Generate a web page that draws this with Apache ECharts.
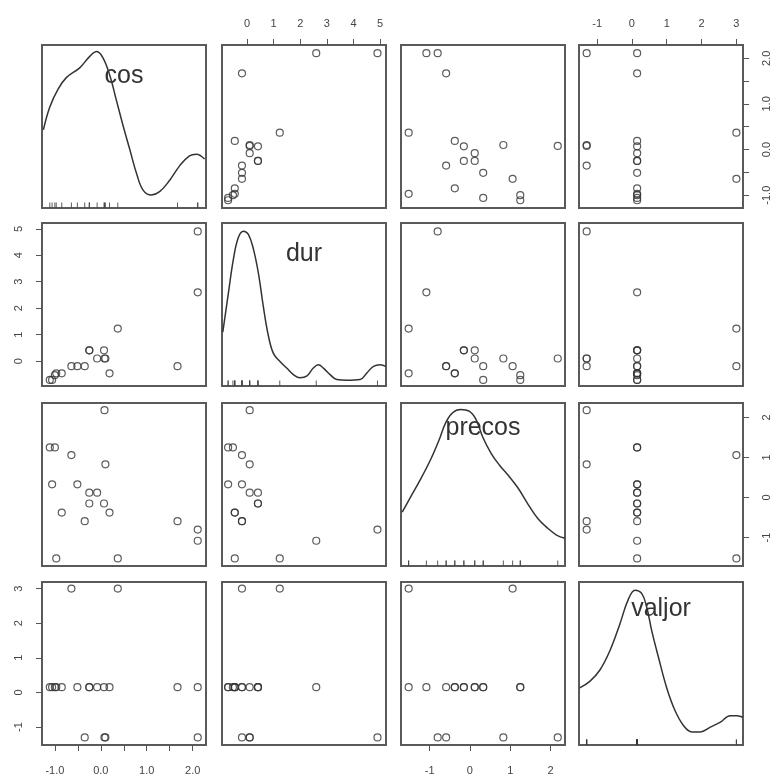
<!DOCTYPE html>
<html>
<head>
<meta charset="utf-8">
<script src="https://cdn.jsdelivr.net/npm/echarts@6/dist/echarts.min.js"></script>
<style>
  html, body { margin: 0; padding: 0; background: #fff; }
  #chart { width: 772px; height: 777px; }
</style>
</head>
<body>
<div id="chart"></div>
<script>
// variables of the scatterplot matrix
const varNames = ['cos', 'dur', 'precos', 'valjor']

const cos = [0.08, -1.11, -1.0, -0.64, 0.1, -1.06, -0.51, -0.25, -0.08, -0.25, 0.07, -0.85, 0.19, -0.35, 1.67, 2.11, 2.11, -0.97, 0.37]
const dur = [0.1, -0.71, -0.53, -0.19, 0.1, -0.71, -0.19, 0.41, 0.1, 0.41, 0.41, -0.46, -0.46, -0.19, -0.19, 4.9, 2.6, -0.46, 1.23]
const precos = [2.18, 1.25, 1.25, 1.06, 0.83, 0.33, 0.33, 0.12, 0.12, -0.15, -0.15, -0.375, -0.375, -0.59, -0.59, -0.8, -1.08, -1.52, -1.52]
const valjor = [-1.3, 0.15, 0.15, 3.0, -1.3, 0.15, 0.15, 0.15, 0.15, 0.15, 0.15, 0.15, 0.15, -1.3, 0.15, -1.3, 0.15, 0.15, 3.0]

// density curves on the diagonal (height as share of the panel)
const cosDensX = [-1.25, -1.11, -0.93, -0.75, -0.46, -0.24, -0.09, 0.05, 0.2, 0.34, 0.49, 0.63, 0.78, 0.92, 1.1, 1.28, 1.5, 1.72, 1.93, 2.08, 2.26]
const cosDensY = [0.48, 0.62, 0.73, 0.8, 0.86, 0.93, 0.96, 0.92, 0.81, 0.66, 0.5, 0.36, 0.21, 0.11, 0.08, 0.1, 0.17, 0.26, 0.32, 0.33, 0.3]
const durDensX = [-0.91, -0.7, -0.51, -0.33, -0.14, 0.05, 0.24, 0.43, 0.61, 0.8, 0.99, 1.24, 1.49, 1.74, 1.99, 2.24, 2.49, 2.68, 2.87, 3.12, 3.37, 3.75, 4.25, 4.5, 4.75, 5.0, 5.22]
const durDensY = [0.33, 0.57, 0.78, 0.91, 0.95, 0.93, 0.84, 0.69, 0.49, 0.31, 0.2, 0.15, 0.11, 0.07, 0.05, 0.06, 0.11, 0.13, 0.11, 0.07, 0.04, 0.035, 0.04, 0.08, 0.12, 0.13, 0.12]
const precosDensX = [-1.68, -1.48, -1.23, -0.98, -0.77, -0.6, -0.43, -0.23, -0.02, 0.15, 0.32, 0.53, 0.73, 0.94, 1.19, 1.44, 1.69, 1.94, 2.15, 2.36]
const precosDensY = [0.33, 0.42, 0.53, 0.65, 0.77, 0.88, 0.94, 0.96, 0.95, 0.9, 0.79, 0.69, 0.62, 0.56, 0.48, 0.38, 0.29, 0.23, 0.19, 0.17]
const valjorDensX = [-1.5, -1.21, -0.92, -0.63, -0.35, -0.11, 0.09, 0.28, 0.42, 0.57, 0.76, 1.0, 1.24, 1.48, 1.72, 1.96, 2.25, 2.54, 2.82, 3.02, 3.19]
const valjorDensY = [0.35, 0.39, 0.46, 0.58, 0.74, 0.89, 0.95, 0.93, 0.85, 0.7, 0.54, 0.35, 0.21, 0.12, 0.08, 0.08, 0.11, 0.14, 0.18, 0.18, 0.17]

// tick marks and tick labels
const cosTicks = [-1, -0.5, 0, 0.5, 1, 1.5, 2]
const cosTickLabels = [-1, 0, 1, 2]
const durTicks = [0, 1, 2, 3, 4, 5]
const precosTicks = [-1, 0, 1, 2]
const valjorTicks = [-1, 0, 1, 2, 3]

const values = [cos, dur, precos, valjor]
const densX = [cosDensX, durDensX, precosDensX, valjorDensX]
const densY = [cosDensY, durDensY, precosDensY, valjorDensY]
const ticks = [cosTicks, durTicks, precosTicks, valjorTicks]
const tickLabels = [cosTickLabels, durTicks, precosTicks, valjorTicks]
const fmt = [v => v.toFixed(1), v => String(v), v => String(v), v => String(v)]

// layout
const ranges = [[-1.28, 2.29], [-0.94, 5.22], [-1.71, 2.36], [-1.52, 3.19]]
const colLeft = [42, 222, 401, 579]
const rowTop = [45, 223, 403, 582]
const cellW = 164
const cellH = 163
const labelY = [76, 254, 428, 609]

const grids = []
const xAxes = []
const yAxes = []
const series = []
const graphics = []

function axisStyle(labeled, i, rotate, margin) {
  return {
    axisLine: { show: false, onZero: false },
    splitLine: { show: false },
    axisTick: {
      show: labeled,
      length: 6,
      customValues: ticks[i],
      lineStyle: { color: '#555', width: 1 }
    },
    axisLabel: {
      show: labeled,
      customValues: tickLabels[i],
      formatter: fmt[i],
      color: '#444',
      fontSize: 11,
      fontFamily: 'Liberation Sans',
      margin: margin,
      rotate: rotate
    }
  }
}

for (let r = 0; r < 4; r++) {
  for (let c = 0; c < 4; c++) {
    const idx = r * 4 + c
    grids.push({
      left: colLeft[c],
      top: rowTop[r],
      width: cellW,
      height: cellH,
      show: true,
      borderColor: '#5a5a5a',
      borderWidth: 2
    })

    const xLabeled = (r === 0 && c % 2 === 1) || (r === 3 && c % 2 === 0)
    xAxes.push(Object.assign({
      type: 'value',
      gridIndex: idx,
      min: ranges[c][0],
      max: ranges[c][1],
      position: r === 0 ? 'top' : 'bottom'
    }, axisStyle(xLabeled, c, 0, r === 0 ? 16 : 20)))

    if (r === c) {
      yAxes.push({
        type: 'value',
        gridIndex: idx,
        min: 0,
        max: 1,
        show: false
      })
      series.push({
        type: 'line',
        xAxisIndex: idx,
        yAxisIndex: idx,
        data: densX[c].map((x, k) => [x, densY[c][k]]),
        showSymbol: false,
        smooth: 0.4,
        lineStyle: { color: '#333', width: 1.5 },
        silent: true
      })
      series.push({
        type: 'scatter',
        xAxisIndex: idx,
        yAxisIndex: idx,
        data: values[c].map(v => [v, 0]),
        symbol: 'rect',
        symbolSize: [1, 5],
        symbolOffset: [0, -3],
        itemStyle: { color: '#333' },
        silent: true
      })
      graphics.push({
        type: 'text',
        x: colLeft[c] + cellW / 2,
        y: labelY[r],
        style: {
          text: varNames[c],
          font: '25px "Liberation Sans"',
          fill: '#333',
          textAlign: 'center',
          textVerticalAlign: 'middle'
        },
        z: 10
      })
    } else {
      const yLabeled = (c === 3 && r % 2 === 0) || (c === 0 && r % 2 === 1)
      yAxes.push(Object.assign({
        type: 'value',
        gridIndex: idx,
        min: ranges[r][0],
        max: ranges[r][1],
        position: r % 2 === 0 ? 'right' : 'left'
      }, axisStyle(yLabeled, r, 90, 18)))
      series.push({
        type: 'scatter',
        xAxisIndex: idx,
        yAxisIndex: idx,
        data: values[c].map((v, k) => [v, values[r][k]]),
        symbol: 'circle',
        symbolSize: 7,
        itemStyle: {
          color: 'rgba(255,255,255,0)',
          borderColor: '#333',
          borderWidth: 1.2
        }
      })
    }
  }
}

const chart = echarts.init(document.getElementById('chart'))
chart.setOption({
  backgroundColor: '#fff',
  animation: false,
  grid: grids,
  xAxis: xAxes,
  yAxis: yAxes,
  series: series,
  graphic: graphics
})
</script>
</body>
</html>
